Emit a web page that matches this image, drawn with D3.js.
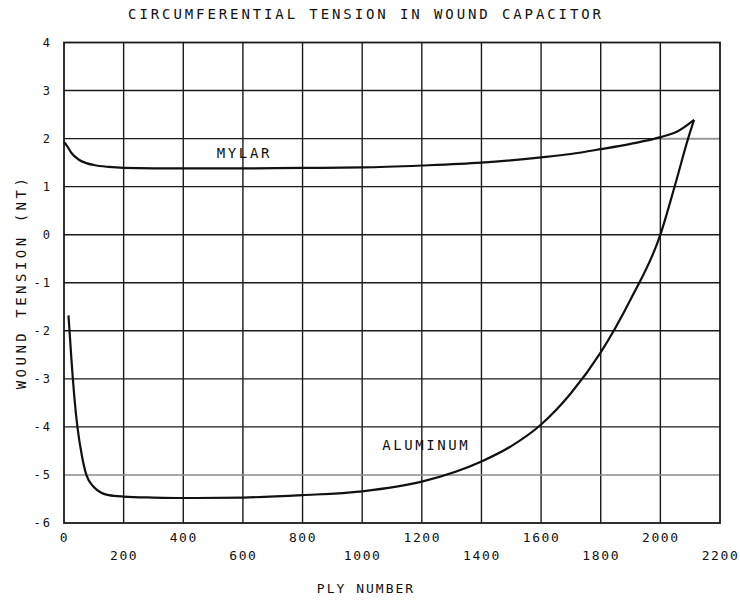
<!DOCTYPE html>
<html>
<head>
<meta charset="utf-8">
<script src="https://cdn.jsdelivr.net/npm/d3@7"></script>
<style>
  html, body { margin: 0; padding: 0; background: #fff; }
  svg text { font-family: "DejaVu Sans Mono", "Liberation Mono", monospace; fill: #111; }
</style>
</head>
<body>
<svg id="chart" width="740" height="602"></svg>
<script>
// ---- data ----
const titleText = "CIRCUMFERENTIAL TENSION IN WOUND CAPACITOR";
const xTitle = "PLY NUMBER";
const yTitle = "WOUND TENSION (NT)";
const xTicks = [0, 200, 400, 600, 800, 1000, 1200, 1400, 1600, 1800, 2000, 2200];
const yTicks = [4, 3, 2, 1, 0, -1, -2, -3, -4, -5, -6];

const mylarPly     = [0, 10, 25, 50, 75, 100, 150, 200, 300, 400, 600, 800, 1000, 1200, 1400, 1600, 1700, 1800, 1900, 2000, 2060, 2113];
const mylarTension = [1.93, 1.85, 1.70, 1.56, 1.49, 1.45, 1.41, 1.39, 1.38, 1.38, 1.38, 1.39, 1.40, 1.44, 1.50, 1.61, 1.68, 1.78, 1.89, 2.03, 2.16, 2.39];

const alumPly     = [15, 25, 35, 45, 60, 75, 100, 125, 150, 200, 300, 400, 600, 800, 1000, 1200, 1400, 1500, 1600, 1700, 1800, 1900, 2000, 2050, 2093, 2113];
const alumTension = [-1.68, -2.6, -3.4, -4.0, -4.6, -5.0, -5.25, -5.37, -5.42, -5.45, -5.47, -5.48, -5.47, -5.42, -5.34, -5.14, -4.72, -4.40, -3.95, -3.30, -2.45, -1.35, 0.0, 1.05, 2.0, 2.39];

const seriesLabels = ["MYLAR", "ALUMINUM"];
const labelAnchors = [[605, 1.6], [1215, -4.48]]; // [ply, tension] where labels sit

// ---- layout ----
const svg = d3.select("#chart");
const x = d3.scaleLinear().domain([0, 2200]).range([64, 720]);
const y = d3.scaleLinear().domain([-6, 4]).range([523, 42.5]);

// grid
const grid = svg.append("g");
grid.selectAll("line.v").data(xTicks.slice(1, -1)).join("line")
  .attr("x1", d => x(d)).attr("x2", d => x(d))
  .attr("y1", y(4)).attr("y2", y(-6))
  .attr("stroke", "#1a1a1a").attr("stroke-width", 1.4);
grid.selectAll("line.h").data(yTicks.slice(1, -1)).join("line")
  .attr("x1", x(0)).attr("x2", x(2200))
  .attr("y1", d => y(d)).attr("y2", d => y(d))
  .attr("stroke", d => d === -5 ? "#8a8a8a" : "#1a1a1a")
  .attr("stroke-width", d => d === -5 ? 1.6 : 1.4);
// faded right end of the "2" gridline, as in the scan
grid.append("line")
  .attr("x1", x(2000) + 1).attr("x2", x(2200) - 1)
  .attr("y1", y(2)).attr("y2", y(2))
  .attr("stroke", "#9a9a9a").attr("stroke-width", 1.8);

// frame
svg.append("rect")
  .attr("x", x(0)).attr("y", y(4))
  .attr("width", x(2200) - x(0)).attr("height", y(-6) - y(4))
  .attr("fill", "none").attr("stroke", "#1a1a1a").attr("stroke-width", 1.8);

// x axis labels (staggered)
const xAxis = d3.axisBottom(x).tickValues(xTicks).tickSize(0).tickFormat(d => String(d));
const gx = svg.append("g").attr("transform", `translate(0,${y(-6)})`).call(xAxis);
gx.select(".domain").remove();
gx.selectAll("text")
  .attr("y", (d, i) => i % 2 === 0 ? 10 : 28)
  .attr("dy", "0.71em")
  .style("font-size", "13px")
  .style("letter-spacing", "1.6px")
  .style("fill", "#111");

// y axis labels
const yAxis = d3.axisLeft(y).tickValues(yTicks).tickSize(0).tickFormat(d => d < 0 ? "-" + Math.abs(d) : String(d));
const gy = svg.append("g").attr("transform", `translate(${x(0)},0)`).call(yAxis);
gy.select(".domain").remove();
gy.selectAll("text")
  .attr("x", -12)
  .attr("dy", "0.32em")
  .style("font-size", "12px")
  .style("letter-spacing", "2px")
  .style("fill", "#111");

// curves
const line = d3.line().x(d => x(d[0])).y(d => y(d[1])).curve(d3.curveMonotoneX);
const mylar = mylarPly.map((p, i) => [p, mylarTension[i]]);
const alum = alumPly.map((p, i) => [p, alumTension[i]]);
[mylar, alum].forEach(s => {
  svg.append("path").datum(s).attr("d", line)
    .attr("fill", "none").attr("stroke", "#111").attr("stroke-width", 2.2)
    .attr("stroke-linejoin", "round");
});

// series labels
svg.selectAll("text.series").data(seriesLabels).join("text")
  .attr("class", "series")
  .attr("x", (d, i) => x(labelAnchors[i][0]))
  .attr("y", (d, i) => y(labelAnchors[i][1]))
  .attr("text-anchor", "middle")
  .style("font-size", "14px")
  .style("letter-spacing", "2.6px")
  .text(d => d);

// titles
svg.append("text").attr("x", 366).attr("y", 19).attr("text-anchor", "middle")
  .style("font-size", "14px").style("letter-spacing", "2.9px").text(titleText);
svg.append("text").attr("x", 366).attr("y", 593).attr("text-anchor", "middle")
  .style("font-size", "13px").style("letter-spacing", "2px").text(xTitle);
svg.append("text").attr("transform", "translate(26,282) rotate(-90)").attr("text-anchor", "middle")
  .style("font-size", "14px").style("letter-spacing", "3.5px").text(yTitle);
</script>
</body>
</html>
